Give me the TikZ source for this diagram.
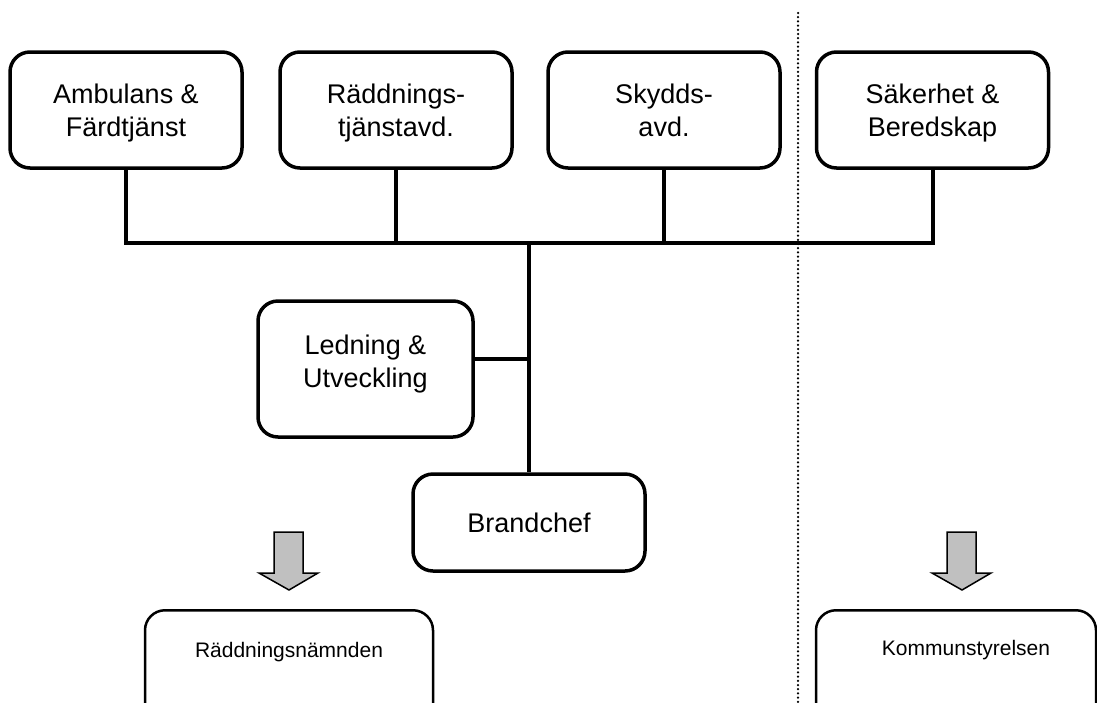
\documentclass[tikz,border=0pt]{standalone}
\usepackage{fontspec}
\setmainfont{Liberation Sans}
\usetikzlibrary{calc}
\definecolor{arrowgray}{RGB}{192,192,192}
\begin{document}
\begin{tikzpicture}[x=1pt,y=-1pt,
  unit/.style={draw, line width=3.5pt, rounded corners=20pt, align=center,
    inner sep=0pt, text depth=0pt, font=\fontsize{27}{33}\selectfont},
  topunit/.style={unit, minimum width=232pt, minimum height=116pt},
  board/.style={draw, line width=2.5pt, rounded corners=20pt, inner sep=0pt,
    anchor=north, minimum height=130pt},
  boardlabel/.style={font=\fontsize{21}{25}\selectfont, inner sep=0pt},
  link/.style={line width=4pt},
  blockarrow/.style={draw, line width=1.5pt, fill=arrowgray, line join=miter},
  divider/.style={line width=2.5pt, line cap=round, dash pattern=on 0pt off 4.2pt}
]
\useasboundingbox (0,0) rectangle (1097,702);

% departments
\node[topunit] (amb) at (126,110)   {Ambulans \&\\Färdtjänst};
\node[topunit] (rtj) at (396,110)   {Räddnings-\\tjänstavd.};
\node[topunit] (sky) at (664,110)   {Skydds-\\avd.};
\node[topunit] (sak) at (932.5,110) {Säkerhet \&\\Beredskap};

% management
\node[unit, minimum width=215pt, minimum height=136pt, text depth=16pt] (led) at (365.5,369) {Ledning \&\\Utveckling};
\node[unit, minimum width=232pt, minimum height=97pt] (bch) at (529,522.5) {Brandchef};

% bus and trunk
\coordinate (bus) at (529,243);
\draw[link] (amb.south) -- (amb.south |- bus) -- (sak.south |- bus) -- (sak.south);
\draw[link] (rtj.south) -- (rtj.south |- bus);
\draw[link] (sky.south) -- (sky.south |- bus);
\draw[link] (bus) -- (bch.north);
\draw[link] ($(led.east)+(0,-10)$) -- ($(led.east -| bus)+(0,-10)$);

% dividing line
\coordinate (divtop) at (798,13);
\coordinate (divbot) at (798,702);
\draw[divider] (divtop) -- (divbot);

% reporting boards
\node[board, minimum width=288pt] (rn) at (289,609) {};
\node[boardlabel] (rnlabel) at (289,652) {Räddningsnämnden};
\node[board, minimum width=280pt] (ks) at (956,609) {};
\node[boardlabel] (kslabel) at (966,650) {Kommunstyrelsen};

% block arrows
\foreach \tip in {289,962}{
  \draw[blockarrow, shift={(\tip,590)}]
    (-15,-58) -- (-15,-17) -- (-30,-17) -- (0,0) -- (29,-17) -- (14,-17) -- (14,-58) -- cycle;
}
\end{tikzpicture}
\end{document}
